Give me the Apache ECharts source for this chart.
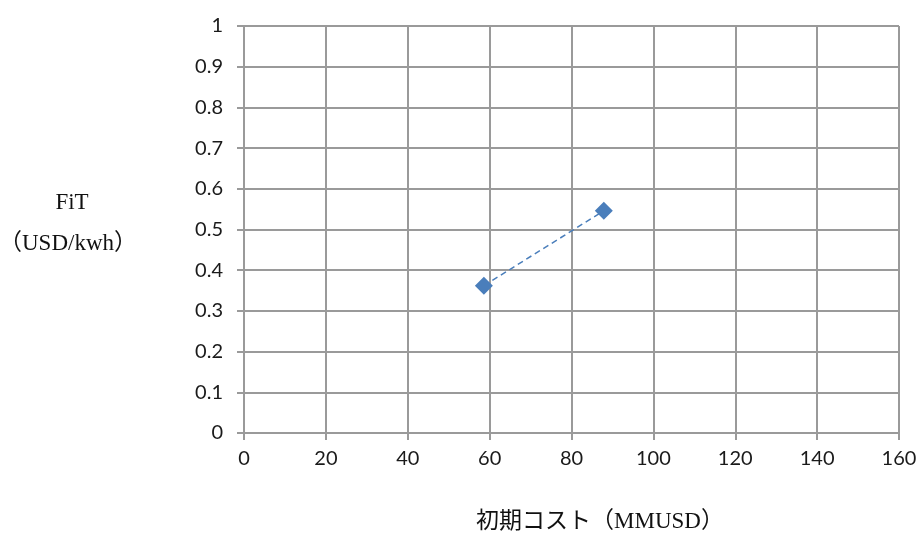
<!DOCTYPE html>
<html>
<head>
<meta charset="utf-8">
<script src="https://cdn.jsdelivr.net/npm/echarts@6/dist/echarts.min.js"></script>
<style>
  html, body { margin: 0; padding: 0; background: #fff; }
  #chart { width: 921px; height: 544px; }
</style>
</head>
<body>
<div id="chart"></div>
<script>
// Initial cost (MMUSD) vs feed-in tariff (USD/kWh)
const initialCost = [58.6, 87.9];
const fitValues = [0.362, 0.546];
const xTickMax = 160;
const yTickMax = 1;

const points = initialCost.map((c, i) => [c, fitValues[i]]);

const chart = echarts.init(document.getElementById('chart'));
const gridColor = '#9a9a9a';
const tickFont = { color: '#1a1a1a', fontSize: 20, fontFamily: 'Lato, "Open Sans", sans-serif' };
const titleFont = '23px "Liberation Serif", "Noto Sans CJK JP", serif';

chart.setOption({
  animation: false,
  grid: { left: 244, right: 22, top: 26, bottom: 111 },
  xAxis: {
    type: 'value', min: 0, max: xTickMax, interval: 20,
    axisLine: { show: true, lineStyle: { color: gridColor, width: 2 } },
    axisTick: { show: true, length: 7, lineStyle: { color: gridColor, width: 2 } },
    splitLine: { show: true, lineStyle: { color: gridColor, width: 2 } },
    axisLabel: Object.assign({ margin: 16 }, tickFont)
  },
  yAxis: {
    type: 'value', min: 0, max: yTickMax, interval: 0.1,
    axisLine: { show: true, lineStyle: { color: gridColor, width: 2 } },
    axisTick: { show: true, length: 7, lineStyle: { color: gridColor, width: 2 } },
    splitLine: { show: true, lineStyle: { color: gridColor, width: 2 } },
    axisLabel: Object.assign({ margin: 21, formatter: v => String(Math.round(v * 10) / 10) }, tickFont)
  },
  series: [{
    type: 'line',
    data: points,
    symbol: 'diamond',
    symbolSize: 18,
    itemStyle: { color: '#4a7ebb' },
    lineStyle: { color: '#4a7ebb', width: 1.5, type: [6, 4] }
  }],
  graphic: [
    {
      type: 'text', x: 72, y: 203,
      style: { text: 'FiT', font: titleFont, fill: '#111', align: 'center', verticalAlign: 'middle' }
    },
    {
      type: 'text', x: 68, y: 244,
      style: { text: '（USD/kwh）', font: titleFont, fill: '#111', align: 'center', verticalAlign: 'middle' }
    },
    {
      type: 'text', x: 600, y: 522,
      style: { text: '初期コスト（MMUSD）', font: titleFont, fill: '#111', align: 'center', verticalAlign: 'middle' }
    }
  ]
});
</script>
</body>
</html>
